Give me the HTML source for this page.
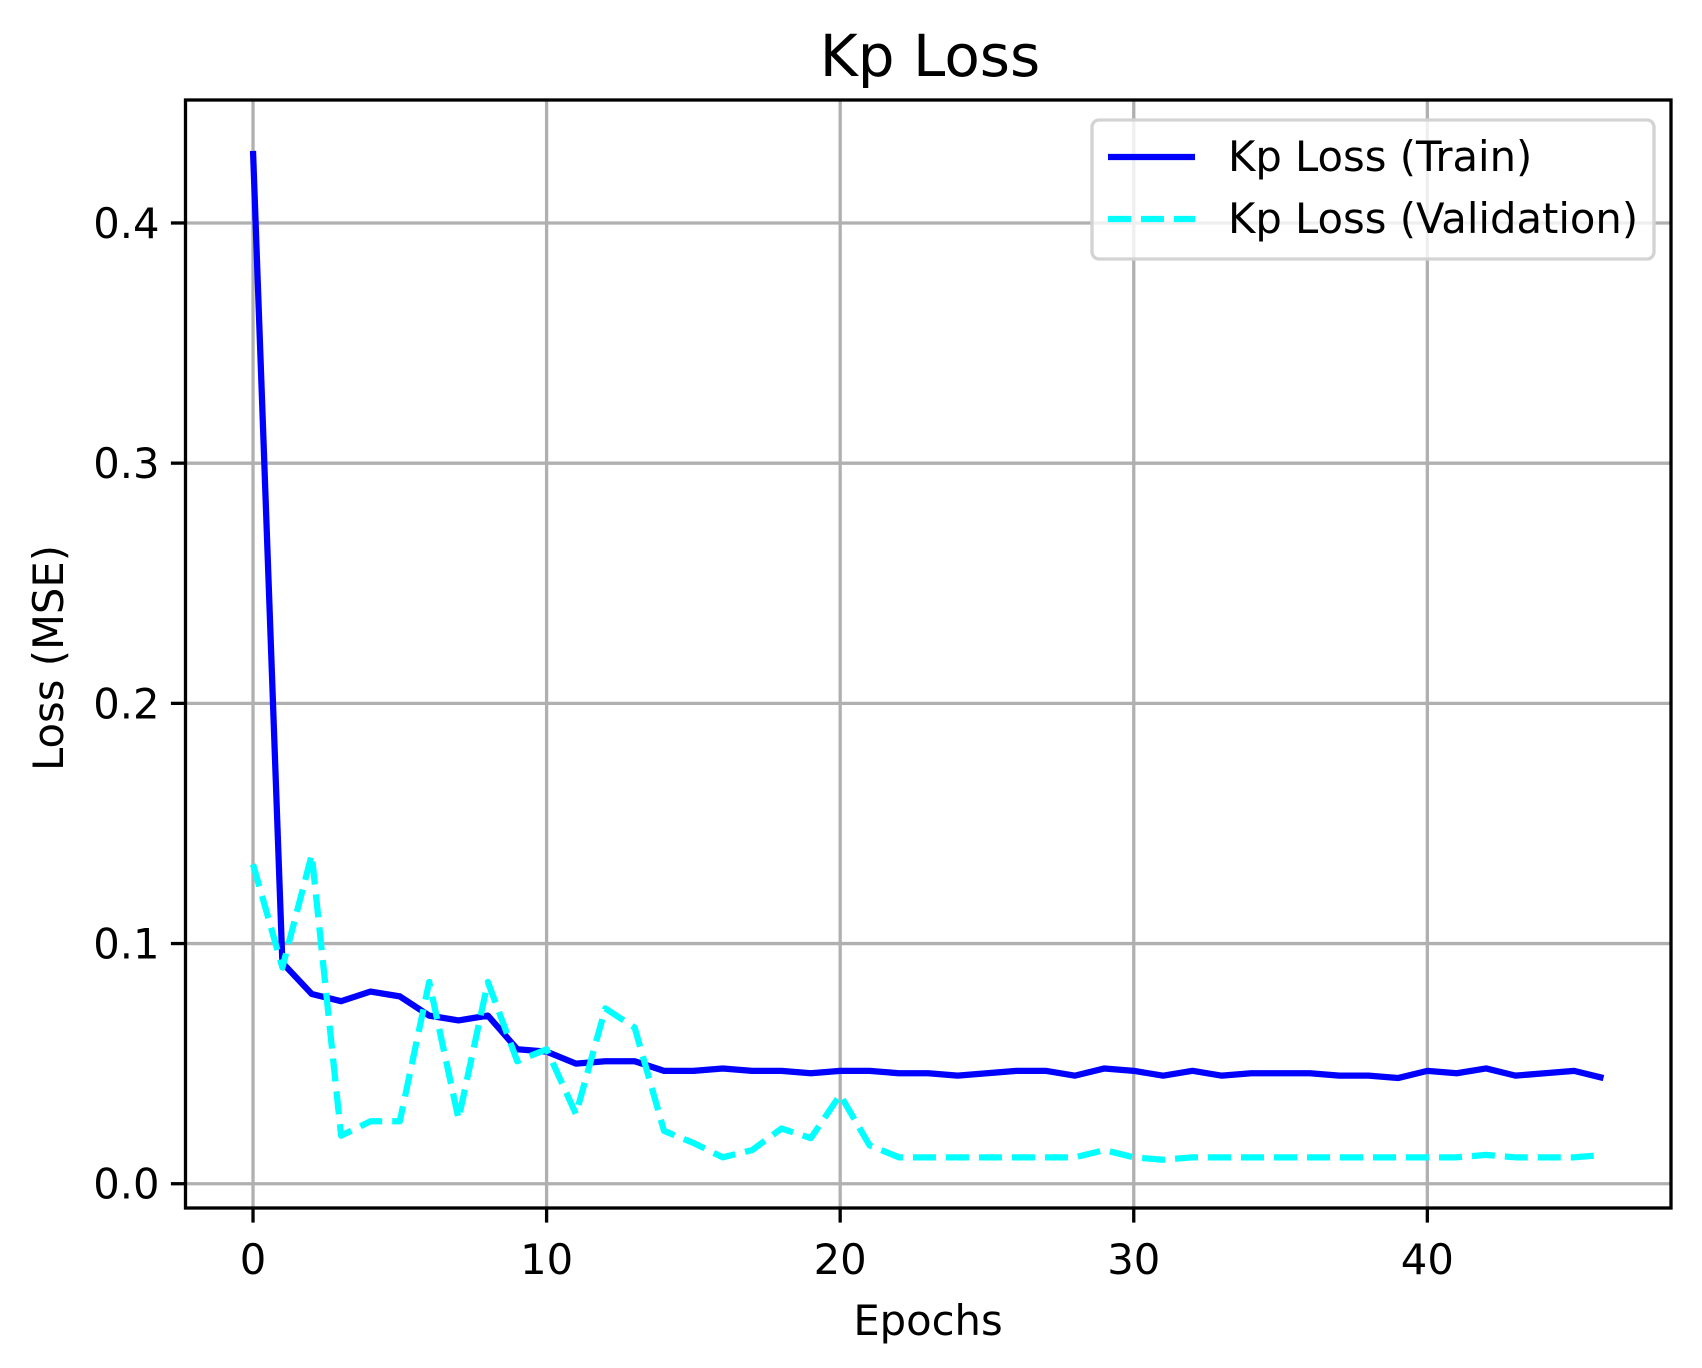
<!DOCTYPE html>
<html><head><meta charset="utf-8"><style>
html,body{margin:0;padding:0;background:#fff;}
svg{display:block;font-family:"DejaVu Sans","Liberation Sans",sans-serif;}
</style></head><body>
<svg id="chart" width="1702" height="1368" viewBox="0 0 1702 1368" xmlns="http://www.w3.org/2000/svg">
<rect width="1702" height="1368" fill="#fff"/>
<g id="grid"></g>
<g id="series"></g>
<g id="axes"></g>
<text x="930" y="76" font-size="58" text-anchor="middle">Kp Loss</text>
<text x="928" y="1335" font-size="41.7" text-anchor="middle">Epochs</text>
<text x="0" y="0" font-size="41.7" text-anchor="middle" transform="translate(63,658) rotate(-90)">Loss (MSE)</text>
<g transform="translate(-5,0)">
<rect x="1097" y="120" width="562" height="139" rx="7" fill="#fff" fill-opacity="0.8" stroke="#d3d3d3" stroke-width="3.3"/>
<line x1="1113" y1="157" x2="1200" y2="157" stroke="#0000ff" stroke-width="6.25"/>
<text x="1233" y="171" font-size="41.7">Kp Loss (Train)</text>
<line x1="1113" y1="219" x2="1200" y2="219" stroke="#00ffff" stroke-width="6.25" stroke-dasharray="23 10"/>
<text x="1233" y="233" font-size="41.7">Kp Loss (Validation)</text>
</g>
</svg>
<script>
const epochs = Array.from({length:47},(_,i)=>i);
const trainLoss = [0.430,0.092,0.079,0.076,0.080,0.078,0.070,0.068,0.070,0.056,0.055,0.050,0.051,0.051,0.047,0.047,0.048,0.047,0.047,0.046,0.047,0.047,0.046,0.046,0.045,0.046,0.047,0.047,0.045,0.048,0.047,0.045,0.047,0.045,0.046,0.046,0.046,0.045,0.045,0.044,0.047,0.046,0.048,0.045,0.046,0.047,0.044];
const valLoss = [0.133,0.090,0.137,0.020,0.026,0.026,0.084,0.027,0.084,0.051,0.056,0.029,0.073,0.065,0.022,0.017,0.011,0.014,0.023,0.019,0.037,0.016,0.011,0.011,0.011,0.011,0.011,0.011,0.011,0.014,0.011,0.010,0.011,0.011,0.011,0.011,0.011,0.011,0.011,0.011,0.011,0.011,0.012,0.011,0.011,0.011,0.012];
const xTicks = [0,10,20,30,40];
const yTicks = [0.0,0.1,0.2,0.3,0.4];
const yTickLabels = ["0.0","0.1","0.2","0.3","0.4"];

const L=185.5,R=1671,T=100,B=1208;
const xMin=-2.3,xMax=48.3,yMin=-0.0101,yMax=0.4512;
const xs=v=>L+(v-xMin)/(xMax-xMin)*(R-L);
const ys=v=>B-(v-yMin)/(yMax-yMin)*(B-T);
const NS="http://www.w3.org/2000/svg";
function mk(tag,attrs,parent){const e=document.createElementNS(NS,tag);for(const k in attrs)e.setAttribute(k,attrs[k]);parent.appendChild(e);return e;}
const grid=document.getElementById('grid'),axes=document.getElementById('axes'),series=document.getElementById('series');
xTicks.forEach(t=>{
  const g=mk('line',{x1:xs(t),x2:xs(t),y1:T,y2:B,stroke:'#b0b0b0','stroke-width':3.3},grid);
  
  
  const tk=mk('line',{x1:xs(t),x2:xs(t),y1:B,y2:B+14.6,stroke:'#000','stroke-width':3.3},axes);
  
  
  const tx=mk('text',{x:xs(t),y:B+66,'font-size':41.7,'text-anchor':'middle'},axes);
  tx.textContent=String(t);
  
  
});
yTicks.forEach((t,i)=>{
  const g=mk('line',{x1:L,x2:R,y1:ys(t),y2:ys(t),stroke:'#b0b0b0','stroke-width':3.3},grid);
  
  
  const tk=mk('line',{x1:L-14.6,x2:L,y1:ys(t),y2:ys(t),stroke:'#000','stroke-width':3.3},axes);
  
  
  const tx=mk('text',{x:L-26,y:ys(t)+15,'font-size':41.7,'text-anchor':'end'},axes);
  tx.textContent=yTickLabels[i];
  
  
});
const frame=mk('rect',{x:L,y:T,width:R-L,height:B-T,fill:'none',stroke:'#000','stroke-width':3.3},axes);


const pts=a=>a.map((v,i)=>xs(epochs[i]).toFixed(2)+','+ys(v).toFixed(2)).join(' ');
const tl=mk('polyline',{points:pts(trainLoss),fill:'none',stroke:'#0000ff','stroke-width':6.25,'stroke-linejoin':'round'},series);


const vl=mk('polyline',{points:pts(valLoss),fill:'none',stroke:'#00ffff','stroke-width':6.25,'stroke-dasharray':'23 10','stroke-linejoin':'round'},series);


</script>
</body></html>
